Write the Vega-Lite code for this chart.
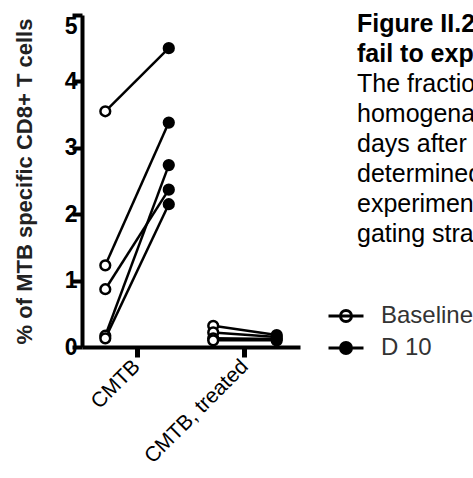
{
  "$schema": "https://vega.github.io/schema/vega-lite/v6.json",
  "width": 218,
  "height": 332,
  "autosize": {"type": "none"},
  "padding": {"left": 82, "top": 15, "right": 173, "bottom": 131},
  "background": "white",
  "config": {"view": {"stroke": null}, "font": "Liberation Sans"},
  "title": {
    "text": ["Figure II.2: CMTB-specific CD8+ T cells", "fail to expand after treatment"],
    "subtitle": ["The fraction of MTB-specific CD8+ T cells in lung", "homogenates was measured at baseline and 10", "days after infection. Percentages were", "determined by flow cytometry in two", "experiments. See Figure II.1 for the", "gating strategy."],
    "anchor": "start",
    "frame": "group",
    "orient": "top",
    "font": "Liberation Sans",
    "fontSize": 25,
    "fontWeight": "bold",
    "color": "black",
    "lineHeight": 30,
    "subtitleFont": "Liberation Sans",
    "subtitleFontSize": 25,
    "subtitleColor": "black",
    "subtitleLineHeight": 30,
    "subtitlePadding": 5,
    "offset": 0,
    "dx": 275,
    "dy": 234
  },
  "data": {
    "values": [
      {"group": "CMTB", "time": "Baseline", "pair": "p1", "value": 3.55},
      {"group": "CMTB", "time": "D 10", "pair": "p1", "value": 4.5},
      {"group": "CMTB", "time": "Baseline", "pair": "p2", "value": 1.23},
      {"group": "CMTB", "time": "D 10", "pair": "p2", "value": 3.38},
      {"group": "CMTB", "time": "Baseline", "pair": "p3", "value": 0.87},
      {"group": "CMTB", "time": "D 10", "pair": "p3", "value": 2.37},
      {"group": "CMTB", "time": "Baseline", "pair": "p4", "value": 0.17},
      {"group": "CMTB", "time": "D 10", "pair": "p4", "value": 2.74},
      {"group": "CMTB", "time": "Baseline", "pair": "p5", "value": 0.13},
      {"group": "CMTB", "time": "D 10", "pair": "p5", "value": 2.15},
      {"group": "CMTB, treated", "time": "Baseline", "pair": "t1", "value": 0.32},
      {"group": "CMTB, treated", "time": "D 10", "pair": "t1", "value": 0.18},
      {"group": "CMTB, treated", "time": "Baseline", "pair": "t2", "value": 0.22},
      {"group": "CMTB, treated", "time": "D 10", "pair": "t2", "value": 0.15},
      {"group": "CMTB, treated", "time": "Baseline", "pair": "t3", "value": 0.13},
      {"group": "CMTB, treated", "time": "D 10", "pair": "t3", "value": 0.12},
      {"group": "CMTB, treated", "time": "Baseline", "pair": "t4", "value": 0.1},
      {"group": "CMTB, treated", "time": "D 10", "pair": "t4", "value": 0.1}
    ]
  },
  "encoding": {
    "x": {
      "field": "group",
      "type": "nominal",
      "scale": {"domain": ["CMTB", "CMTB, treated"], "paddingInner": 0, "paddingOuter": 0.01},
      "axis": {
        "title": null,
        "domainWidth": 4,
        "domainColor": "black",
        "tickWidth": 5,
        "tickSize": 10,
        "tickColor": "black",
        "labelAngle": -45,
        "labelAlign": "right",
        "labelBaseline": "middle",
        "labelFont": "Liberation Sans",
        "labelFontSize": 21,
        "labelColor": "black",
        "labelPadding": 6
      }
    },
    "xOffset": {
      "field": "time",
      "type": "nominal",
      "scale": {"domain": ["Baseline", "D 10"], "paddingInner": 0, "paddingOuter": 0.35}
    },
    "y": {
      "field": "value",
      "type": "quantitative",
      "scale": {"domain": [0, 5], "nice": false},
      "axis": {
        "title": "% of MTB specific CD8+ T cells",
        "titleFont": "Liberation Sans",
        "titleFontSize": 22,
        "titleFontWeight": "bold",
        "titleColor": "#222",
        "titlePadding": 28,
        "values": [0, 1, 2, 3, 4, 5],
        "grid": false,
        "domainWidth": 4,
        "domainColor": "black",
        "tickWidth": 4,
        "tickSize": 10,
        "tickColor": "black",
        "labelFont": "Liberation Sans",
        "labelFontSize": 23,
        "labelFontWeight": "bold",
        "labelColor": "black",
        "labelPadding": -5,
        "labelBaseline": {"condition": {"test": "datum.value === 5", "value": "top"}, "value": "middle"}
      }
    }
  },
  "layer": [
    {
      "mark": {"type": "line", "color": "black", "strokeWidth": 2.5},
      "encoding": {"detail": {"field": "pair", "type": "nominal"}}
    },
    {
      "mark": {"type": "point", "filled": true, "stroke": "black", "strokeWidth": 2.5, "size": 95, "opacity": 1},
      "encoding": {
        "fill": {
          "field": "time",
          "type": "nominal",
          "scale": {"domain": ["Baseline", "D 10"], "range": ["white", "black"]},
          "legend": {
            "orient": "none",
            "legendX": 245,
            "legendY": 282,
            "title": null,
            "symbolType": "M-1,0H1M-0.314,0A0.314,0.314,0,1,1,0.314,0A0.314,0.314,0,1,1,-0.314,0Z",
            "symbolSize": 1225,
            "symbolStrokeColor": "black",
            "symbolStrokeWidth": 3,
            "labelFont": "Liberation Sans",
            "labelFontSize": 24,
            "labelColor": "#333",
            "labelOffset": 16,
            "rowPadding": 1,
            "padding": 0,
            "symbolOffset": 0
          }
        }
      }
    }
  ]
}
